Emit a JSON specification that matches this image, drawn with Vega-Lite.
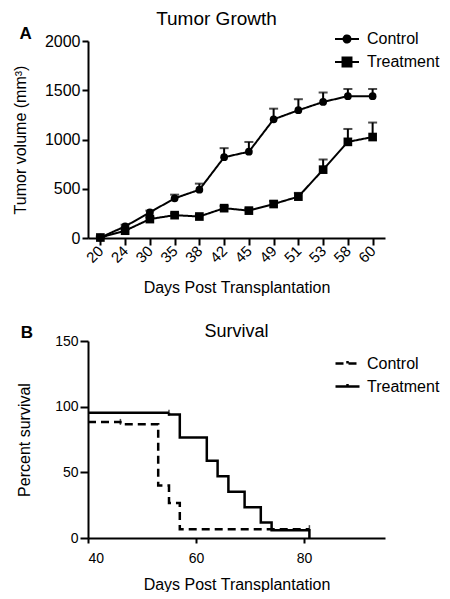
{
  "$schema": "https://vega.github.io/schema/vega-lite/v6.json",
  "background": "white",
  "padding": {"left": 12, "top": 10, "right": 0, "bottom": 0},
  "config": {
    "font": "Liberation Sans",
    "view": {"stroke": null},
    "axis": {
      "grid": false,
      "domainColor": "black",
      "domainWidth": 2,
      "tickColor": "black",
      "tickWidth": 2,
      "labelColor": "black",
      "titleColor": "black",
      "labelFont": "Liberation Sans",
      "titleFont": "Liberation Sans",
      "titleFontWeight": "normal",
      "titleFontSize": 16,
      "labelFontSize": 15
    },
    "title": {"font": "Liberation Sans", "color": "black"},
    "legend": {"labelFont": "Liberation Sans", "labelColor": "black"}
  },
  "datasets": {
    "tumor": [
      {"group": "Control", "day": 20, "vol": 5, "hi": 15},
      {"group": "Control", "day": 24, "vol": 118, "hi": 135},
      {"group": "Control", "day": 30, "vol": 260, "hi": 278},
      {"group": "Control", "day": 35, "vol": 403, "hi": 440},
      {"group": "Control", "day": 38, "vol": 490, "hi": 552},
      {"group": "Control", "day": 42, "vol": 820, "hi": 912},
      {"group": "Control", "day": 45, "vol": 876, "hi": 975},
      {"group": "Control", "day": 49, "vol": 1205, "hi": 1313},
      {"group": "Control", "day": 51, "vol": 1297, "hi": 1409},
      {"group": "Control", "day": 53, "vol": 1381, "hi": 1477},
      {"group": "Control", "day": 58, "vol": 1440, "hi": 1513},
      {"group": "Control", "day": 60, "vol": 1440, "hi": 1513},
      {"group": "Treatment", "day": 20, "vol": 5, "hi": 15},
      {"group": "Treatment", "day": 24, "vol": 74, "hi": 90},
      {"group": "Treatment", "day": 30, "vol": 192, "hi": 210},
      {"group": "Treatment", "day": 35, "vol": 232, "hi": 250},
      {"group": "Treatment", "day": 38, "vol": 218, "hi": 236},
      {"group": "Treatment", "day": 42, "vol": 303, "hi": 325},
      {"group": "Treatment", "day": 45, "vol": 278, "hi": 298},
      {"group": "Treatment", "day": 49, "vol": 345, "hi": 375},
      {"group": "Treatment", "day": 51, "vol": 420, "hi": 458},
      {"group": "Treatment", "day": 53, "vol": 694, "hi": 797},
      {"group": "Treatment", "day": 58, "vol": 976, "hi": 1107},
      {"group": "Treatment", "day": 60, "vol": 1025, "hi": 1172}
    ],
    "km": [
      {"group": "Control", "day": 40, "pct": 88.4},
      {"group": "Control", "day": 46, "pct": 86.7},
      {"group": "Control", "day": 53, "pct": 40.0},
      {"group": "Control", "day": 55, "pct": 26.7},
      {"group": "Control", "day": 57, "pct": 6.7},
      {"group": "Control", "day": 81, "pct": 6.7},
      {"group": "Treatment", "day": 40, "pct": 95.3},
      {"group": "Treatment", "day": 55, "pct": 94.1},
      {"group": "Treatment", "day": 57, "pct": 76.5},
      {"group": "Treatment", "day": 62, "pct": 58.8},
      {"group": "Treatment", "day": 64, "pct": 47.1},
      {"group": "Treatment", "day": 66, "pct": 35.3},
      {"group": "Treatment", "day": 69, "pct": 23.5},
      {"group": "Treatment", "day": 72, "pct": 11.8},
      {"group": "Treatment", "day": 74, "pct": 5.9},
      {"group": "Treatment", "day": 81, "pct": 0}
    ],
    "censor": [
      {"group": "Control", "day": 46, "pct": 88.4},
      {"group": "Treatment", "day": 55, "pct": 95.3},
      {"group": "Control", "day": 81, "pct": 7.5}
    ]
  },
  "spacing": 27,
  "resolve": {"scale": {"strokeDash": "independent"}, "legend": {"strokeDash": "independent"}},
  "vconcat": [
    {
      "title": {"text": "A", "anchor": "start", "fontSize": 17, "fontWeight": "bold", "dy": 33, "dx": 7, "offset": 0, "color": "black"},
      "vconcat": [
        {
          "width": 297,
          "height": 197,
          "title": {"text": "Tumor Growth", "fontSize": 19, "fontWeight": "normal", "dx": -20, "offset": 4, "color": "black"},
          "data": {"name": "tumor"},
          "encoding": {
            "x": {
              "field": "day", "type": "ordinal",
              "scale": {"type": "point", "padding": 0.5},
              "axis": {"title": "Days Post Transplantation", "labelAngle": -45, "labelAlign": "right", "labelBaseline": "middle", "tickSize": 7, "labelPadding": 3, "titlePadding": 14, "labelFontSize": 15, "titleColor": "black"}
            }
          },
          "layer": [
            {
              "mark": {"type": "rule", "color": "black", "strokeWidth": 2},
              "encoding": {
                "y": {"field": "vol", "type": "quantitative", "scale": {"domain": [0, 2000], "nice": false},
                      "axis": {"title": "Tumor volume (mm³)", "titleColor": "black", "values": [0, 500, 1000, 1500, 2000], "format": "d", "tickSize": 6, "labelPadding": 2, "titlePadding": 16, "labelFontSize": 16}},
                "y2": {"field": "hi"}
              }
            },
            {
              "mark": {"type": "tick", "orient": "horizontal", "color": "black", "size": 9, "thickness": 2},
              "encoding": {"y": {"field": "hi", "type": "quantitative"}}
            },
            {
              "mark": {"type": "line", "color": "black", "strokeWidth": 2},
              "encoding": {
                "y": {"field": "vol", "type": "quantitative"},
                "strokeDash": {"field": "group", "type": "nominal",
                  "scale": {"domain": ["Control", "Treatment"], "range": [[1, 0], [1, 0]]},
                  "legend": {"title": null, "orient": "none", "legendX": 250, "legendY": -11, "symbolSize": 256, "symbolStrokeWidth": 2, "symbolStrokeColor": "black", "symbolFillColor": "black", "labelFontSize": 16, "labelOffset": 11, "rowPadding": 6,
                    "encode": {"symbols": {"update": {
                      "shape": {"signal": "datum.value === 'Control' ? 'M-1.5,0H1.5M-0.44,0A0.44,0.44,0,1,0,0.44,0A0.44,0.44,0,1,0,-0.44,0Z' : 'M-1.5,0H1.5M-0.56,-0.56H0.56V0.56H-0.56Z'"},
                      "fill": {"value": "black"}, "stroke": {"value": "black"}, "strokeWidth": {"value": 2}, "strokeDash": {"value": [1, 0]}}}}}
                }
              }
            },
            {
              "mark": {"type": "point", "filled": true, "opacity": 1, "color": "black"},
              "encoding": {
                "y": {"field": "vol", "type": "quantitative"},
                "shape": {"field": "group", "type": "nominal", "scale": {"domain": ["Control", "Treatment"], "range": ["circle", "square"]}, "legend": null},
                "size": {"condition": {"test": "datum.group === 'Treatment'", "value": 75}, "value": 60}
              }
            }
          ]
        }
      ]
    },
    {
      "title": {"text": "B", "anchor": "start", "fontSize": 17, "fontWeight": "bold", "dy": 19, "dx": 4, "offset": 0, "color": "black"},
      "vconcat": [
        {
          "width": 297,
          "height": 197,
          "title": {"text": "Survival", "fontSize": 18, "fontWeight": "normal", "offset": -7, "color": "black"},
          "layer": [
            {
              "data": {"name": "km"},
              "mark": {"type": "line", "interpolate": "step-after", "color": "black", "strokeWidth": 2.5},
              "encoding": {
                "x": {"field": "day", "type": "quantitative", "scale": {"domain": [40, 95], "nice": false},
                      "axis": {"title": "Days Post Transplantation", "titleColor": "black", "values": [40, 60, 80], "tickSize": 5, "labelPadding": 8, "titlePadding": 11, "labelFontSize": 14}},
                "y": {"field": "pct", "type": "quantitative", "scale": {"domain": [0, 150], "nice": false},
                      "axis": {"title": "Percent survival", "titleColor": "black", "values": [0, 50, 100, 150], "tickSize": 8, "labelPadding": 2, "titlePadding": 22, "labelFontSize": 14}},
                "strokeDash": {"field": "group", "type": "nominal",
                  "scale": {"domain": ["Control", "Treatment"], "range": [[8, 5], [1, 0]]},
                  "legend": {"title": null, "orient": "none", "legendX": 250, "legendY": 13, "symbolType": "M-1.5,0H1.5M0,0V-0.3", "symbolSize": 256, "symbolStrokeWidth": 2.5, "symbolStrokeColor": "black", "symbolFillColor": "transparent", "labelFontSize": 16, "labelOffset": 10, "rowPadding": 5}
                }
              }
            },
            {
              "data": {"name": "censor"},
              "mark": {"type": "tick", "orient": "vertical", "color": "black", "size": 6, "thickness": 1.5},
              "encoding": {
                "x": {"field": "day", "type": "quantitative"},
                "y": {"field": "pct", "type": "quantitative"}
              }
            }
          ]
        }
      ]
    }
  ]
}
